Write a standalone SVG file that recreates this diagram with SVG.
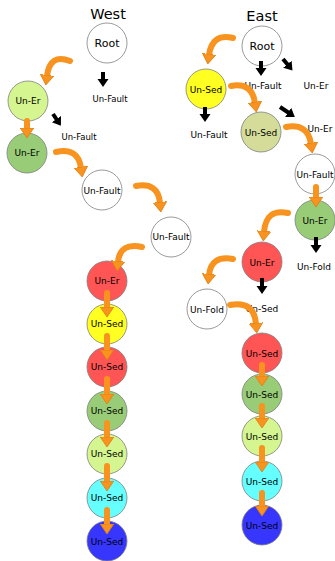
<svg xmlns="http://www.w3.org/2000/svg" width="335" height="561" viewBox="0 0 335 561">
<style>
.n{stroke:#808080;stroke-width:0.8}
.w{fill:#ffffff}.lg{fill:#d4f58f}.g{fill:#99cc77}.r{fill:#ff5555}.y{fill:#ffff22}.k{fill:#d5dc9a}.c{fill:#66ffff}.b{fill:#3636ff}
text{font-family:"DejaVu Sans","Liberation Sans",sans-serif;fill:#000;text-anchor:middle}
.t{font-size:9px}
.ts{font-size:8.5px}
.tr{font-size:11px}
.h{font-size:14.5px}
.oa{fill:none;stroke:#f7931e;stroke-width:6;stroke-linecap:round;marker-end:url(#oh)}
.ba{fill:none;stroke:#000;stroke-width:4;marker-end:url(#bh)}
</style>
<defs>
<marker id="oh" markerUnits="userSpaceOnUse" viewBox="0 -7.5 11 15" markerWidth="11" markerHeight="15" refX="1" refY="0" orient="auto">
<path d="M0,-6.8 L10,0 L0,6.8 z" fill="#f7931e" stroke="#e07d10" stroke-width="0.8" stroke-linejoin="round"/>
</marker>
<marker id="bh" markerUnits="userSpaceOnUse" viewBox="0 -6 9 12" markerWidth="9" markerHeight="12" refX="1" refY="0" orient="auto">
<path d="M0,-5.5 L8,0 L0,5.5 z" fill="#000"/>
</marker>
</defs>

<text class="h" x="108" y="19">West</text>
<text class="h" x="262" y="21">East</text>

<!-- West nodes -->
<g id="w-root"><circle class="n w" cx="107" cy="43" r="20"/><text class="tr" x="107" y="47">Root</text></g>
<g id="w-root-fault"><text class="ts" x="110" y="102">Un-Fault</text></g>
<g id="w-er1"><circle class="n lg" cx="28" cy="101" r="20"/><text class="t" x="28" y="104">Un-Er</text></g>
<g id="w-er1-fault"><text class="ts" x="79" y="140">Un-Fault</text></g>
<g id="w-er2"><circle class="n g" cx="27" cy="153" r="20"/><text class="t" x="27" y="156">Un-Er</text></g>
<g id="w-fault1"><circle class="n w" cx="102" cy="190" r="20"/><text class="t" x="102" y="194">Un-Fault</text></g>
<g id="w-fault2"><circle class="n w" cx="171" cy="237" r="20"/><text class="t" x="171" y="240">Un-Fault</text></g>
<g id="w-er3"><circle class="n r" cx="107" cy="281" r="20"/><text class="t" x="107" y="284">Un-Er</text></g>
<g id="w-sed1"><circle class="n y" cx="107" cy="324" r="20"/><text class="t" x="107" y="327">Un-Sed</text></g>
<g id="w-sed2"><circle class="n r" cx="107" cy="367" r="20"/><text class="t" x="107" y="370">Un-Sed</text></g>
<g id="w-sed3"><circle class="n g" cx="107" cy="411" r="20"/><text class="t" x="107" y="414">Un-Sed</text></g>
<g id="w-sed4"><circle class="n lg" cx="107" cy="454" r="20"/><text class="t" x="107" y="457">Un-Sed</text></g>
<g id="w-sed5"><circle class="n c" cx="107" cy="498" r="20"/><text class="t" x="107" y="501">Un-Sed</text></g>
<g id="w-sed6"><circle class="n b" cx="107" cy="541" r="20"/><text class="t" x="107" y="545">Un-Sed</text></g>

<!-- East nodes -->
<g id="e-root"><circle class="n w" cx="262" cy="46" r="20"/><text class="tr" x="262" y="50">Root</text></g>
<g id="e-root-fault"><text class="t" x="263" y="89">Un-Fault</text></g>
<g id="e-root-er"><text class="t" x="316" y="89">Un-Er</text></g>
<g id="e-sed1"><circle class="n y" cx="206" cy="89" r="20"/><text class="t" x="206" y="93">Un-Sed</text></g>
<g id="e-sed1-fault"><text class="t" x="209" y="138">Un-Fault</text></g>
<g id="e-sed2"><circle class="n k" cx="261" cy="132" r="20"/><text class="t" x="261" y="136">Un-Sed</text></g>
<g id="e-sed2-er"><text class="t" x="320" y="132">Un-Er</text></g>
<g id="e-fault"><circle class="n w" cx="315" cy="174" r="20"/><text class="t" x="315" y="178">Un-Fault</text></g>
<g id="e-er1"><circle class="n g" cx="315" cy="220" r="20"/><text class="t" x="315" y="224">Un-Er</text></g>
<g id="e-er1-fold"><text class="t" x="314" y="270">Un-Fold</text></g>
<g id="e-er2"><circle class="n r" cx="262" cy="262" r="20"/><text class="t" x="262" y="266">Un-Er</text></g>
<g id="e-er2-sed"><text class="t" x="262" y="312">Un-Sed</text></g>
<g id="e-fold"><circle class="n w" cx="207" cy="309" r="20"/><text class="t" x="207" y="313">Un-Fold</text></g>
<g id="e-sed3"><circle class="n r" cx="262" cy="353" r="20"/><text class="t" x="262" y="357">Un-Sed</text></g>
<g id="e-sed4"><circle class="n g" cx="262" cy="394" r="20"/><text class="t" x="262" y="398">Un-Sed</text></g>
<g id="e-sed5"><circle class="n lg" cx="262" cy="436" r="20"/><text class="t" x="262" y="440">Un-Sed</text></g>
<g id="e-sed6"><circle class="n c" cx="262" cy="481" r="20"/><text class="t" x="262" y="485">Un-Sed</text></g>
<g id="e-sed7"><circle class="n b" cx="262" cy="525" r="20"/><text class="t" x="262" y="529">Un-Sed</text></g>

<g id="connectors">
<!-- West -->
<path class="ba" d="M103,72 L103,80"/>
<path class="ba" d="M53,114 L57,120"/>
<path class="oa" d="M70,61 Q50,53 47,76"/>
<path class="oa" d="M27,121 L27,129"/>
<path class="oa" d="M56,152 Q78,147 81,168"/>
<path class="oa" d="M136,186 Q158,182 160,203"/>
<path class="oa" d="M142,247 Q120,242 118,262"/>
<path class="oa" d="M107,293 L107,308"/>
<path class="oa" d="M107,336 L107,351"/>
<path class="oa" d="M107,379 L107,395"/>
<path class="oa" d="M107,423 L107,438"/>
<path class="oa" d="M107,466 L107,482"/>
<path class="oa" d="M107,510 L107,525"/>
<!-- East -->
<path class="ba" d="M261,61 L261,69"/>
<path class="ba" d="M283,59 L288,65"/>
<path class="ba" d="M205,107 L205,115"/>
<path class="ba" d="M280,107 L289,113"/>
<path class="ba" d="M316,237 L316,246"/>
<path class="ba" d="M262,278 L262,287"/>
<path class="oa" d="M233,38 Q212,33 209,55"/>
<path class="oa" d="M231,86 Q252,82 255,103"/>
<path class="oa" d="M286,127 Q308,123 311,144"/>
<path class="oa" d="M316,187 L316,198"/>
<path class="oa" d="M288,213 Q266,208 264,232"/>
<path class="oa" d="M233,259 Q211,255 209,275"/>
<path class="oa" d="M230,305 Q254,300 256,324"/>
<path class="oa" d="M262,365 L262,377"/>
<path class="oa" d="M262,406 L262,419"/>
<path class="oa" d="M262,448 L262,463"/>
<path class="oa" d="M262,493 L262,507"/>
</g>
</svg>
